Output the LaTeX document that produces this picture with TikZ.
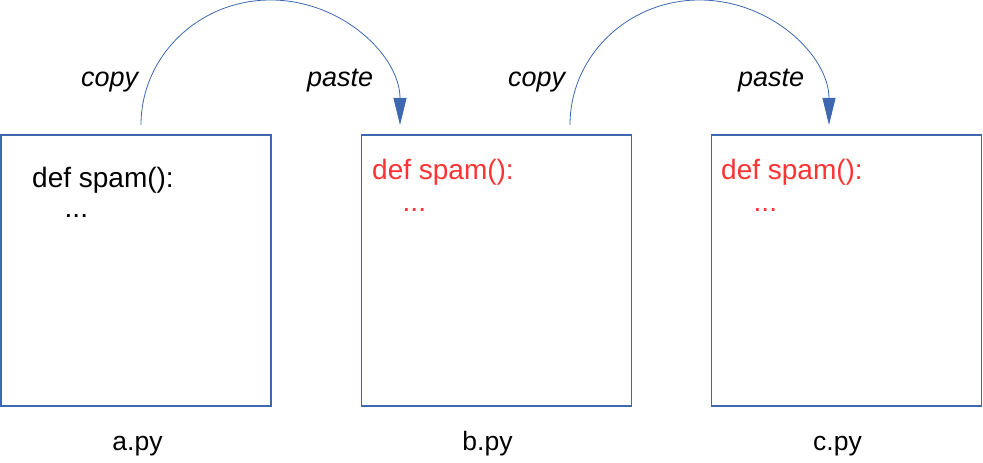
\documentclass[tikz,border=0pt]{standalone}
\usepackage{fontspec}
\setmainfont{Liberation Sans}
\usetikzlibrary{arrows.meta}
\definecolor{boxblue}{RGB}{61,104,176}
\definecolor{codered}{RGB}{255,51,51}
\begin{document}
\begin{tikzpicture}[x=1pt,y=1pt,
  filebox/.style={draw=boxblue,line width=1.2pt,minimum width=270pt,minimum height=271pt,inner sep=0pt},
  code/.style={anchor=base west,inner sep=0pt,font=\fontsize{28}{30}\selectfont},
  act/.style={anchor=base west,inner sep=0pt,font=\fontsize{27}{30}\selectfont\itshape},
  fname/.style={anchor=base,inner sep=0pt,font=\fontsize{26.5}{30}\selectfont},
  flow/.style={draw=boxblue,line width=0.8pt,-{Triangle[length=27pt,width=13pt]}}]
\useasboundingbox (0,0) rectangle (983,463);
\node[filebox] (a) at (136,192.5) {};
\node[filebox] (b) at (496.5,192.5) {};
\node[filebox] (c) at (846.5,192.5) {};
\node[code] (a1) at (32,275) {def spam():};
\node[code] (a2) at (64.5,245) {...};
\node[code,text=codered] (b1) at (372,283) {def spam():};
\node[code,text=codered] (b2) at (402.5,251) {...};
\node[code,text=codered] (c1) at (721,283) {def spam():};
\node[code,text=codered] (c2) at (753.5,251) {...};
\node[act] (cp1) at (81,376) {copy};
\node[act] (ps1) at (307,376) {paste};
\node[act] (cp2) at (508,376) {copy};
\node[act] (ps2) at (738,376) {paste};
\node[fname] (la) at (137.5,12) {a.py};
\node[fname] (lb) at (487.5,12) {b.py};
\node[fname] (lc) at (837.5,12) {c.py};
\coordinate (s1) at (141,338);
\coordinate (s2) at (570,338);
\draw[flow] (s1) arc[start angle=180,end angle=0,x radius=129.5pt,y radius=125pt];
\draw[flow] (s2) arc[start angle=180,end angle=0,x radius=129.5pt,y radius=125pt];
\end{tikzpicture}
\end{document}
